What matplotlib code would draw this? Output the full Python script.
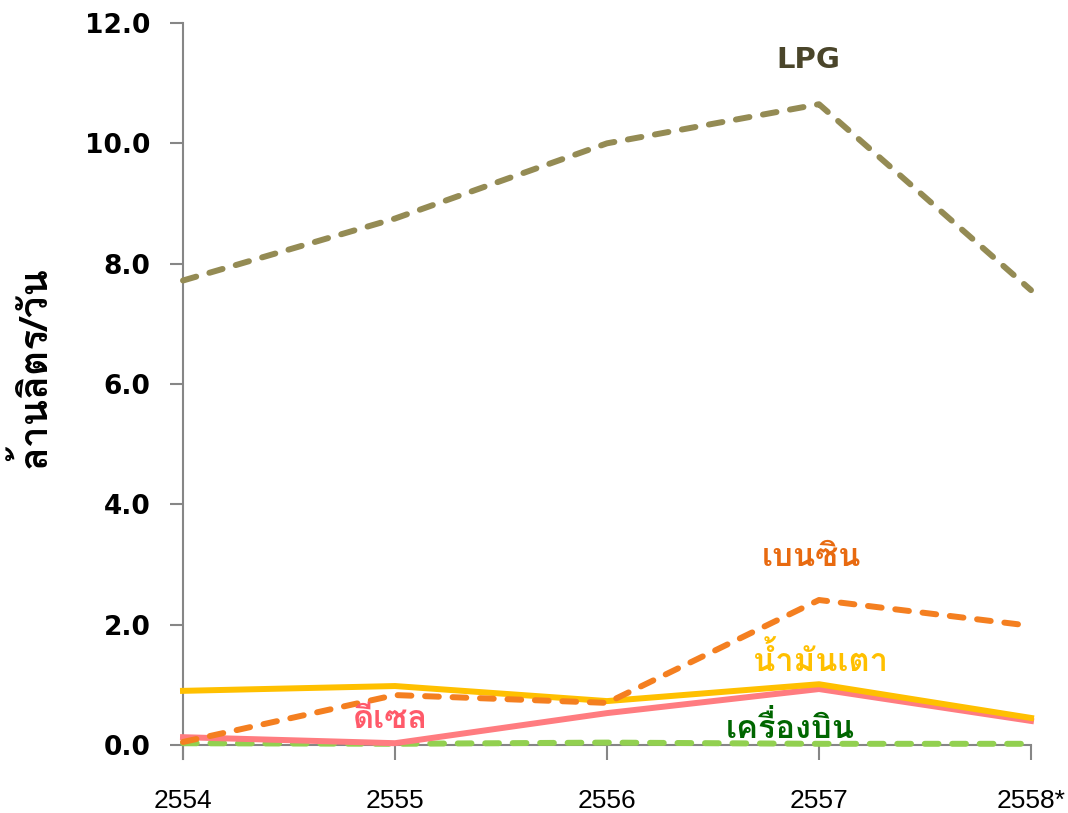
import matplotlib
matplotlib.use("Agg")
import matplotlib.pyplot as plt

years = ["2554", "2555", "2556", "2557", "2558*"]
lpg = [7.72, 8.75, 10.0, 10.65, 7.56]
benzin = [0.05, 0.83, 0.70, 2.41, 1.98]
fuel_oil = [0.90, 0.98, 0.73, 1.01, 0.45]
diesel = [0.13, 0.03, 0.53, 0.93, 0.40]
jet = [0.03, 0.02, 0.04, 0.02, 0.02]
yticks = [0, 2, 4, 6, 8, 10, 12]

thai = 'Loma'

fig = plt.figure(figsize=(10.68, 8.13), dpi=100)
ax = fig.add_axes([183/1068, 1-745/813, (1031-183)/1068, (745-23)/813])
x = list(range(len(years)))
lw = 4.3
dash = (0, (2.3, 2.3))
ax.plot(x, jet, color='#92D050', lw=lw, ls=dash, dash_capstyle='round', zorder=3, clip_on=False)
ax.plot(x, diesel, color='#FF7C80', lw=lw, zorder=4, clip_on=False)
ax.plot(x, fuel_oil, color='#FFC000', lw=lw, zorder=5, clip_on=False)
ax.plot(x, benzin, color='#F47F20', lw=lw, ls=dash, dash_capstyle='round', zorder=6, clip_on=False)
ax.plot(x, lpg, color='#948B54', lw=lw, ls=dash, dash_capstyle='round', zorder=6, clip_on=False)

ax.set_xlim(0, 4)
ax.set_ylim(0, 12)
for s in ['top', 'right']:
    ax.spines[s].set_visible(False)
for s in ['left', 'bottom']:
    ax.spines[s].set_color('#868686')
    ax.spines[s].set_linewidth(1.5)
ax.spines['left'].set_bounds(-0.24, 12)
ax.set_xticks(x)
ax.set_xticklabels(years, fontfamily='Liberation Sans', fontsize=19)
ax.set_yticks(yticks)
ax.set_yticklabels([f"{v:.1f}" for v in yticks], fontfamily='DejaVu Sans', fontweight='bold', fontsize=19)
ax.tick_params(axis='x', length=11, width=1.5, color='#868686', pad=21)
ax.tick_params(axis='y', length=9.5, width=1.5, color='#868686', pad=14)

fig.text(33/1068, 1-367/813, 'ล้านลิตร/วัน', rotation=90, ha='center', va='center',
         fontfamily=thai, fontweight='bold', fontsize=28, color='black')

ax.text(2.948, 11.38, 'LPG', color='#4A452A', fontsize=21, fontweight='bold',
        family=['DejaVu Sans'], ha='center', va='center')
labels = [
    (2.962, 3.11, 'เบนซิน', '#E86A10'),
    (3.005, 1.42, 'น้ำมันเตา', '#FFC000'),
    (0.976, 0.43, 'ดีเซล', '#FF5A6A'),
    (2.863, 0.29, 'เครื่องบิน', '#006600'),
]
for lx, ly, txt, c in labels:
    ax.text(lx, ly, txt, color=c, fontsize=23.5, fontweight='bold', family=thai,
            ha='center', va='center', zorder=10)

fig.savefig('out.png', dpi=100)
